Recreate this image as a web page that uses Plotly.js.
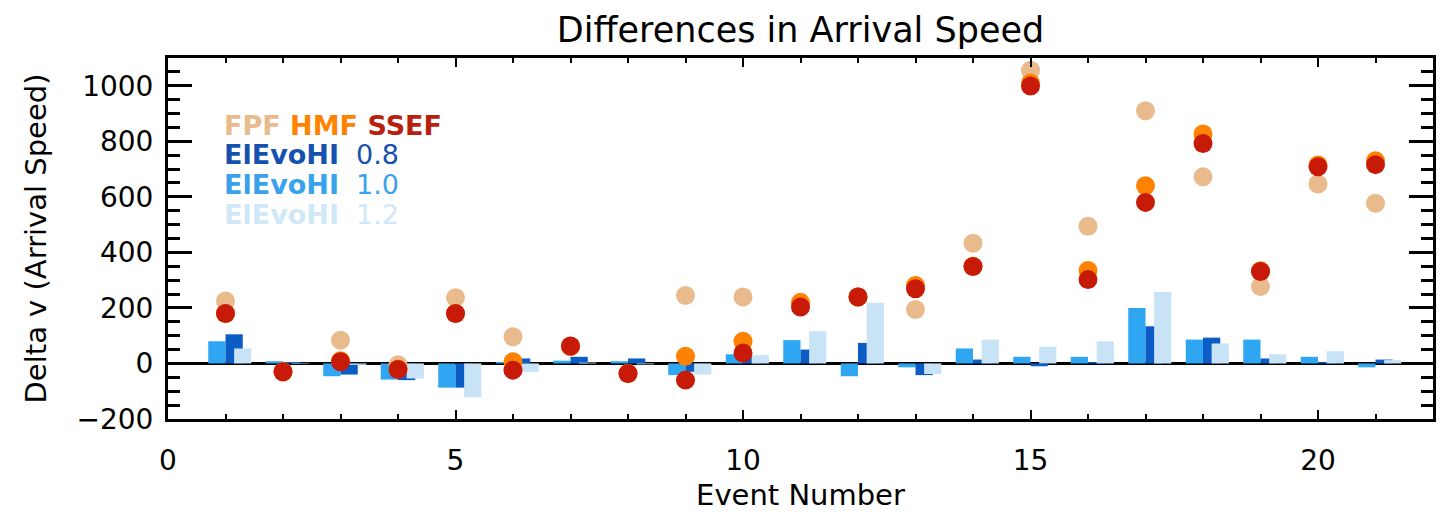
<!DOCTYPE html>
<html>
<head>
<meta charset="utf-8">
<script src="https://cdn.plot.ly/plotly-3.0.1.min.js"></script>
<style>
  html, body { margin: 0; padding: 0; background: #ffffff; }
  #chart { width: 1441px; height: 512px; }
</style>
</head>
<body>
<div id="chart"></div>
<script>
// ---- data ----
const events = [1, 2, 3, 4, 5, 6, 7, 8, 9, 10, 11, 12, 13, 14, 15, 16, 17, 18, 19, 20, 21];

const fpf  = [225, -30, 84, -5, 237, 96, 60, -36, 245, 239, 210, 239, 194, 433, 1056, 494, 910, 672, 277, 646, 577];
const hmf  = [180, -30, 10, -20, 180, 6, 62, -36, 26, 80, 220, 240, 281, 350, 1010, 335, 640, 826, 334, 715, 730];
const ssef = [180, -30, 6, -22, 180, -24, 63, -36, -60, 38, 203, 239, 269, 349, 999, 302, 580, 792, 331, 708, 716];

const elevo08 = [105, 5, -40, -60, -87, 18, 24, 18, -30, 25, 50, 74, -42, 14, -10, 5, 134, 93, 18, 5, 14];
const elevo10 = [80, 8, -46, -58, -87, 5, 10, 8, -42, 33, 84, -46, -14, 54, 24, 24, 200, 86, 86, 24, -14];
const elevo12 = [54, 2, -5, -54, -122, -30, 3, -3, -40, 30, 116, 219, -38, 86, 60, 80, 257, 72, 33, 44, 12];

const xTicks = [0, 5, 10, 15, 20];
const yTicks = [-200, 0, 200, 400, 600, 800, 1000];

// ---- styling ----
const C = {
  fpf: '#E8BA8C', hmf: '#FF8200', ssef: '#C81A08',
  e08: '#0B5CC5', e10: '#2EA6F2', e12: '#C8E3F6'
};
const FONT = 'DejaVu Sans, Arial, sans-serif';

const W = 1441, H = 512;
const M = { l: 168, r: 8, t: 58, b: 93 };
const plotH = H - M.t - M.b;
function pyToPaper(py) { return (H - M.b - py) / plotH; }
function pxToPaper(px) { return (px - M.l) / (W - M.l - M.r); }

function barTrace(vals, color, offset, name) {
  return {
    type: 'bar', x: events, y: vals, name: name,
    width: 0.3, offset: offset,
    marker: { color: color, line: { width: 0 } },
    hoverinfo: 'skip', showlegend: false
  };
}
function dotTrace(vals, color, name) {
  return {
    type: 'scatter', mode: 'markers', x: events, y: vals, name: name,
    marker: { size: 19, color: color, line: { width: 0 } },
    hoverinfo: 'skip', showlegend: false, cliponaxis: false
  };
}

const data = [
  barTrace(elevo10, C.e10, -0.3, 'ElEvoHI 1.0'),
  barTrace(elevo08, C.e08, 0.0, 'ElEvoHI 0.8'),
  barTrace(elevo12, C.e12, 0.15, 'ElEvoHI 1.2'),
  dotTrace(fpf, C.fpf, 'FPF'),
  dotTrace(hmf, C.hmf, 'HMF'),
  dotTrace(ssef, C.ssef, 'SSEF')
];

const nb = '\u00a0';
const legendLines = [
  { text: '<b><span style="color:' + C.fpf + '">FPF</span> <span style="color:' + C.hmf + '">HMF</span> <span style="color:#B8200E">SSEF</span></b>', py: 126 },
  { text: '<span style="color:#1552B0"><b>ElEvoHI</b>' + nb + nb + '0.8</span>', py: 154 },
  { text: '<span style="color:#38A2EC"><b>ElEvoHI</b>' + nb + nb + '1.0</span>', py: 184 },
  { text: '<span style="color:#D0E7F7"><b>ElEvoHI</b>' + nb + nb + '1.2</span>', py: 214 }
];

const annotations = legendLines.map(l => ({
  xref: 'paper', yref: 'paper', x: pxToPaper(222), y: pyToPaper(l.py),
  xanchor: 'left', yanchor: 'middle', showarrow: false,
  text: l.text, font: { family: FONT, size: 27 }
}));

const layout = {
  width: W, height: H,
  margin: M,
  paper_bgcolor: '#ffffff', plot_bgcolor: '#ffffff',
  barmode: 'overlay',
  showlegend: false,
  font: { family: FONT, color: '#000000' },
  title: {
    text: 'Differences in Arrival Speed',
    font: { family: FONT, size: 35, color: '#000' },
    x: 0.5, xref: 'paper', xanchor: 'center',
    y: 1 - 30 / H, yref: 'container', yanchor: 'middle'
  },
  xaxis: {
    range: [0, 22], tickvals: xTicks, ticktext: xTicks.map(String),
    ticks: 'inside', ticklen: 9, tickwidth: 2, tickcolor: '#000',
    minor: { dtick: 1, tick0: 0, ticks: 'inside', ticklen: 5, tickwidth: 2, tickcolor: '#000', showgrid: false },
    showline: true, linewidth: 3, linecolor: '#000', mirror: 'allticks',
    showgrid: false, zeroline: false,
    tickfont: { family: FONT, size: 28, color: '#000' },
    ticklabelstandoff: 14,
    title: { text: 'Event Number', font: { family: FONT, size: 29, color: '#000' }, standoff: 10 }
  },
  yaxis: {
    range: [-200, 1100], tickvals: yTicks, ticktext: yTicks.map(v => v < 0 ? '\u2212' + Math.abs(v) : String(v)),
    ticks: 'inside', ticklen: 24, tickwidth: 3, tickcolor: '#000',
    minor: { dtick: 50, tick0: 0, ticks: 'inside', ticklen: 12, tickwidth: 3, tickcolor: '#000', showgrid: false },
    showline: true, linewidth: 3, linecolor: '#000', mirror: 'allticks',
    showgrid: false,
    zeroline: true, zerolinewidth: 3, zerolinecolor: '#000',
    tickfont: { family: FONT, size: 28, color: '#000' },
    ticklabelstandoff: 6,
    title: { text: 'Delta v (Arrival Speed)', font: { family: FONT, size: 29, color: '#000' }, standoff: 22 }
  },
  annotations: annotations
};

Plotly.newPlot('chart', data, layout, { displayModeBar: false, staticPlot: true });
</script>
</body>
</html>
